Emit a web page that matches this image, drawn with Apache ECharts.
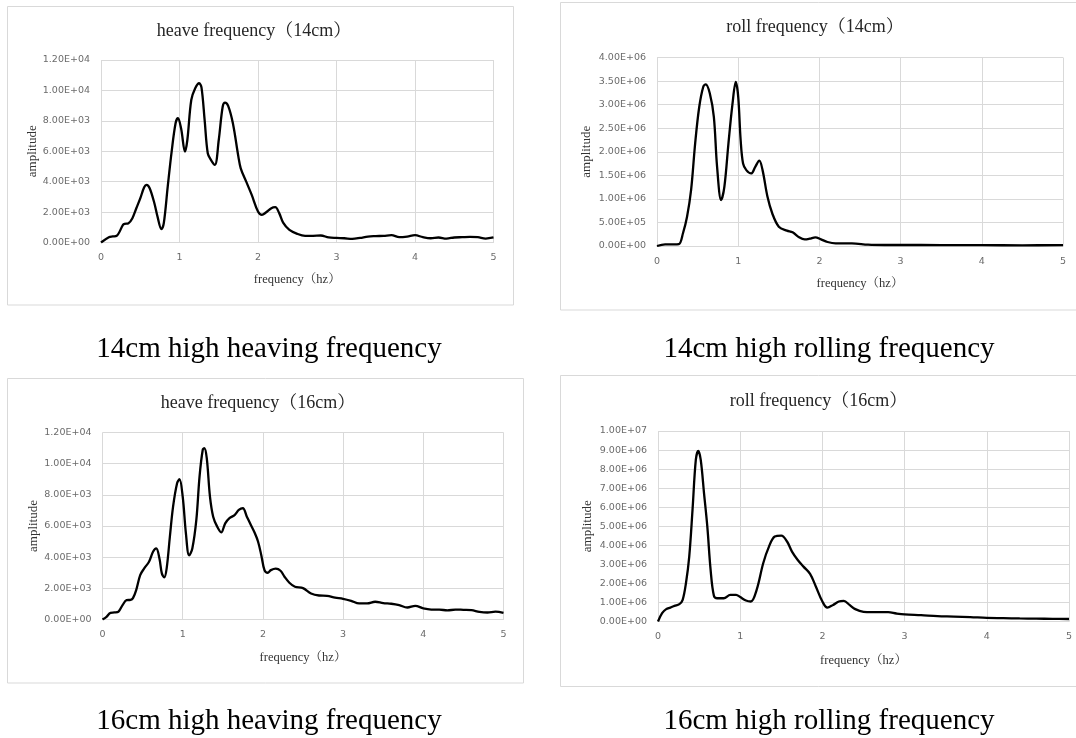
<!DOCTYPE html>
<html>
<head>
<meta charset="utf-8">
<title>heave / roll frequency</title>
<script src="https://cdn.jsdelivr.net/npm/echarts@6/dist/echarts.min.js"></script>
<style>
  html, body { margin: 0; padding: 0; background: #fff; }
  #main { width: 1076px; height: 738px; }
</style>
</head>
<body>
<div id="main"></div>
<script>
// heave 14cm
var heave14Freq = [0, 0.1, 0.15, 0.2, 0.28, 0.3, 0.35, 0.4, 0.45, 0.5, 0.55, 0.58, 0.62, 0.68, 0.72, 0.77, 0.8, 0.85, 0.9, 0.95, 0.98, 1.02, 1.07, 1.1, 1.15, 1.2, 1.25, 1.28, 1.32, 1.36, 1.4, 1.45, 1.5, 1.55, 1.58, 1.62, 1.68, 1.75, 1.78, 1.85, 1.92, 2.0, 2.05, 2.1, 2.17, 2.22, 2.27, 2.32, 2.4, 2.5, 2.6, 2.7, 2.8, 2.9, 3.0, 3.1, 3.2, 3.3, 3.4, 3.5, 3.6, 3.7, 3.8, 3.9, 4.0, 4.1, 4.2, 4.3, 4.4, 4.5, 4.6, 4.7, 4.8, 4.9, 5.0];
var heave14Amp = [0, 350, 400, 440, 1160, 1230, 1270, 1600, 2250, 2900, 3630, 3790, 3570, 2580, 1700, 875, 1270, 3680, 5980, 7840, 8170, 7510, 5980, 6740, 9370, 10140, 10470, 10200, 8060, 5870, 5430, 5100, 6740, 8930, 9200, 8980, 7840, 5650, 4880, 4000, 3130, 2040, 1820, 1970, 2260, 2320, 1930, 1310, 830, 570, 440, 440, 460, 330, 300, 280, 240, 300, 390, 420, 440, 480, 350, 390, 480, 350, 280, 330, 260, 330, 350, 370, 350, 260, 330];

// roll 14cm
var roll14Freq = [0, 0.1, 0.2, 0.27, 0.32, 0.37, 0.42, 0.47, 0.52, 0.57, 0.6, 0.65, 0.7, 0.74, 0.79, 0.83, 0.88, 0.93, 0.97, 1.0, 1.03, 1.06, 1.1, 1.16, 1.21, 1.26, 1.3, 1.36, 1.42, 1.5, 1.6, 1.67, 1.75, 1.82, 1.88, 1.95, 2.02, 2.1, 2.2, 2.4, 2.6, 2.8, 3.0, 3.5, 4.0, 4.5, 5.0];
var roll14Amp = [0, 35000, 35000, 40000, 270000, 620000, 1190000, 2180000, 2950000, 3380000, 3430000, 3240000, 2740000, 1680000, 975000, 1260000, 2180000, 3020000, 3480000, 3170000, 2250000, 1750000, 1610000, 1540000, 1680000, 1810000, 1610000, 1050000, 690000, 410000, 325000, 290000, 185000, 140000, 155000, 185000, 140000, 85000, 57000, 57000, 28000, 21000, 21000, 20000, 18000, 15000, 18000];

// heave 16cm
var heave16Freq = [0, 0.05, 0.1, 0.15, 0.2, 0.25, 0.3, 0.35, 0.38, 0.42, 0.47, 0.52, 0.58, 0.63, 0.67, 0.71, 0.74, 0.77, 0.8, 0.84, 0.88, 0.93, 0.96, 1.0, 1.04, 1.08, 1.12, 1.17, 1.21, 1.25, 1.27, 1.3, 1.34, 1.38, 1.43, 1.48, 1.53, 1.58, 1.65, 1.7, 1.75, 1.8, 1.85, 1.9, 1.94, 1.98, 2.02, 2.06, 2.1, 2.16, 2.22, 2.27, 2.33, 2.4, 2.5, 2.6, 2.7, 2.8, 2.9, 3.0, 3.1, 3.2, 3.3, 3.4, 3.5, 3.6, 3.7, 3.8, 3.9, 4.0, 4.1, 4.2, 4.3, 4.4, 4.5, 4.6, 4.7, 4.8, 4.9, 5.0];
var heave16Amp = [0, 170, 430, 450, 510, 920, 1240, 1260, 1370, 1890, 2850, 3280, 3710, 4350, 4560, 3920, 2960, 2700, 3280, 5310, 7240, 8740, 9000, 7890, 5530, 4110, 4560, 6390, 9170, 10890, 10990, 10350, 7890, 6600, 5960, 5590, 6170, 6490, 6710, 7030, 7140, 6600, 6060, 5530, 4990, 4130, 3170, 3000, 3170, 3260, 3130, 2740, 2360, 2100, 2010, 1670, 1540, 1520, 1410, 1330, 1200, 1030, 1030, 1140, 1050, 1010, 920, 770, 880, 710, 640, 640, 580, 640, 620, 600, 490, 450, 510, 430];

// roll 16cm
var roll16Freq = [0, 0.05, 0.1, 0.15, 0.2, 0.26, 0.3, 0.34, 0.38, 0.42, 0.46, 0.49, 0.52, 0.56, 0.6, 0.64, 0.68, 0.72, 0.8, 0.88, 0.95, 1.0, 1.07, 1.13, 1.2, 1.28, 1.35, 1.42, 1.5, 1.57, 1.63, 1.7, 1.77, 1.85, 1.92, 2.0, 2.06, 2.13, 2.2, 2.26, 2.33, 2.4, 2.5, 2.6, 2.7, 2.8, 2.9, 3.0, 3.2, 3.4, 3.6, 3.8, 4.0, 4.2, 4.4, 4.6, 4.8, 5.0];
var roll16Amp = [0, 440000, 650000, 730000, 820000, 910000, 1140000, 2010000, 3410000, 5860000, 8480000, 8950000, 8480000, 6730000, 4980000, 2710000, 1350000, 1220000, 1220000, 1400000, 1400000, 1280000, 1100000, 1050000, 1660000, 3060000, 3930000, 4460000, 4510000, 4200000, 3670000, 3230000, 2880000, 2500000, 1840000, 1050000, 730000, 870000, 1050000, 1080000, 870000, 650000, 510000, 490000, 490000, 490000, 420000, 370000, 330000, 280000, 260000, 230000, 190000, 175000, 160000, 150000, 140000, 130000];

var chartTitles = ['heave frequency（14cm）', 'roll frequency（14cm）', 'heave frequency（16cm）', 'roll frequency（16cm）'];
var captions = ['14cm high heaving frequency', '14cm high rolling frequency', '16cm high heaving frequency', '16cm high rolling frequency'];
var yMaxes = [12000, 4000000, 12000, 10000000];
var yIntervals = [2000, 500000, 2000, 1000000];
var xTicks = [0, 5, 1]; // min, max, interval

function pairs(xs, ys) {
    var out = [];
    for (var i = 0; i < xs.length; i++) out.push([xs[i], ys[i]]);
    return out;
}

// 12000 -> "1.20E+04"
function sci(v) {
    var s = v.toExponential(2).split('e');
    var e = parseInt(s[1], 10);
    return s[0] + 'E' + (e < 0 ? '-' : '+') + (Math.abs(e) < 10 ? '0' : '') + Math.abs(e);
}

var serif = '"Liberation Serif", "Times New Roman", "Noto Serif CJK SC", "Noto Sans CJK SC", serif';

// plot areas
var grids = [
    {left: 101, top: 60, width: 392.5, height: 182.5},
    {left: 657, top: 57.5, width: 406, height: 188.5},
    {left: 102.5, top: 432.5, width: 401, height: 187},
    {left: 658, top: 431, width: 411, height: 190.5}
];
var xNameGaps = [30.5, 31.5, 32, 32.5];
var yNameGaps = [60, 64, 62.5, 63.5];

var allData = [
    pairs(heave14Freq, heave14Amp),
    pairs(roll14Freq, roll14Amp),
    pairs(heave16Freq, heave16Amp),
    pairs(roll16Freq, roll16Amp)
];

var xAxes = [], yAxes = [], series = [];
for (var i = 0; i < 4; i++) {
    xAxes.push({
        type: 'value', gridIndex: i,
        min: xTicks[0], max: xTicks[1], interval: xTicks[2],
        name: 'frequency（hz）', nameLocation: 'middle', nameGap: xNameGaps[i],
        nameTextStyle: {fontFamily: serif, fontSize: 12.5, color: '#333'},
        axisLine: {show: true, lineStyle: {color: '#d9d9d9', width: 1}},
        axisTick: {show: false},
        axisLabel: {fontFamily: 'DejaVu Sans', fontSize: 9.5, color: '#6b6b6b', margin: 10.5},
        splitLine: {show: true, lineStyle: {color: '#d9d9d9', width: 1}}
    });
    yAxes.push({
        type: 'value', gridIndex: i,
        min: 0, max: yMaxes[i], interval: yIntervals[i],
        name: 'amplitude', nameLocation: 'middle', nameGap: yNameGaps[i],
        nameTextStyle: {fontFamily: serif, fontSize: 13, color: '#333'},
        axisLine: {show: false},
        axisTick: {show: false},
        axisLabel: {fontFamily: 'DejaVu Sans', fontSize: 9.5, color: '#6b6b6b', margin: 11, formatter: sci},
        splitLine: {show: true, lineStyle: {color: '#d9d9d9', width: 1}}
    });
    series.push({
        type: 'line', xAxisIndex: i, yAxisIndex: i,
        data: allData[i],
        smooth: 0.35, symbol: 'none',
        lineStyle: {color: '#000', width: 2.3},
        silent: true, animation: false
    });
}

// gray panel frames
var frames = [
    [7.5, 6.5, 506, 298.5],
    [560.5, 2.5, 530, 307.5],
    [7.5, 378.5, 516, 304.5],
    [560.5, 375.5, 530, 311]
];
var titlePos = [[254, 31], [815, 27], [258, 403.5], [818.5, 401]];
var captionPos = [[269, 349], [829, 349], [269, 721], [829, 721]];

var graphics = [];
frames.forEach(function (f) {
    graphics.push({
        type: 'rect', silent: true, z: -1,
        shape: {x: f[0], y: f[1], width: f[2], height: f[3]},
        style: {fill: 'none', stroke: '#d9d9d9', lineWidth: 1}
    });
});
chartTitles.forEach(function (t, k) {
    graphics.push({
        type: 'text', x: titlePos[k][0], y: titlePos[k][1], silent: true,
        style: {text: t, font: '18px ' + serif, fill: '#262626',
            align: 'center', verticalAlign: 'middle', textAlign: 'center', textVerticalAlign: 'middle'}
    });
});
captions.forEach(function (t, k) {
    graphics.push({
        type: 'text', x: captionPos[k][0], y: captionPos[k][1], silent: true,
        style: {text: t, font: '29px ' + serif, fill: '#000',
            align: 'center', verticalAlign: 'middle', textAlign: 'center', textVerticalAlign: 'middle'}
    });
});

var myChart = echarts.init(document.getElementById('main'));
var option = {
    backgroundColor: '#fff',
    animation: false,
    grid: grids,
    xAxis: xAxes,
    yAxis: yAxes,
    series: series,
    graphic: graphics
};
myChart.setOption(option);
</script>
</body>
</html>
